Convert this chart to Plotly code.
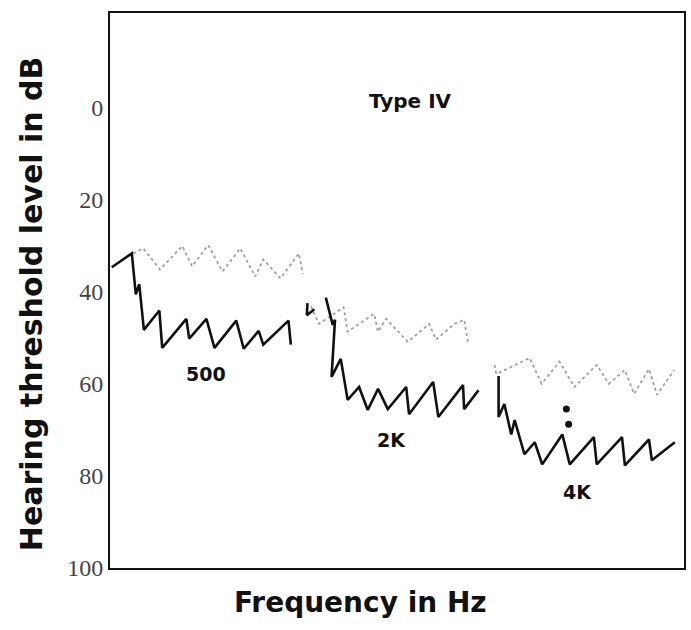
import plotly.graph_objects as go

# ---- data (x: relative position along frequency axis 0-100, y: hearing threshold dB) ----
x_500 = [0.3, 3.8, 4.5, 5.1, 5.9, 8.6, 9.1, 13.3, 13.8, 16.8, 18.2, 22.0, 23.3, 25.9, 26.7, 31.1, 31.5]
y_500 = [34.7, 31.7, 40.6, 38.4, 48.3, 44.1, 52.2, 45.9, 50.2, 45.9, 52.2, 46.3, 52.4, 48.5, 51.5, 46.3, 51.5]

x_2k_mark = [34.4, 34.3, 35.6]
y_2k_mark = [42.5, 45.1, 43.8]

x_2k = [37.6, 38.8, 39.2, 38.6, 40.2, 41.4, 43.4, 44.9, 46.7, 48.4, 51.6, 52.1, 56.3, 57.2, 61.5, 61.7, 64.2]
y_2k = [41.3, 47.2, 46.1, 58.5, 54.6, 63.5, 60.7, 65.7, 61.1, 65.5, 60.7, 66.6, 59.6, 67.2, 60.3, 65.5, 61.4]

x_4k = [67.7, 67.7, 68.7, 69.9, 70.5, 72.2, 74.0, 75.3, 78.8, 80.1, 84.3, 84.8, 89.2, 89.7, 93.9, 94.4, 98.4]
y_4k = [58.3, 67.2, 64.4, 71.0, 67.9, 75.3, 72.7, 77.5, 71.0, 77.5, 71.6, 77.5, 71.6, 77.7, 72.1, 76.6, 72.7]

# pulsed-tone (dotted) tracings
xp_500 = [3.1, 5.8, 8.7, 12.6, 14.3, 17.1, 19.6, 22.7, 25.3, 26.7, 29.7, 32.9, 33.6]
yp_500 = [32.3, 30.6, 35.2, 30.1, 34.5, 29.9, 35.6, 30.6, 36.7, 33.0, 37.1, 31.7, 36.2]
xp_2k = [35.0, 36.4, 40.7, 41.4, 46.0, 46.7, 48.1, 51.9, 55.6, 56.8, 60.0, 61.7, 62.4]
yp_2k = [43.2, 47.0, 43.4, 48.7, 44.8, 48.7, 45.9, 50.9, 47.0, 50.4, 47.0, 46.1, 51.3]
xp_4k = [67.0, 67.3, 73.1, 75.2, 78.3, 80.9, 84.8, 86.9, 89.7, 91.3, 93.9, 95.3, 98.3]
yp_4k = [55.9, 57.9, 54.4, 60.0, 55.2, 60.7, 55.9, 60.0, 57.0, 62.2, 56.8, 62.4, 57.0]

x_dots = [79.5, 79.9]
y_dots = [65.5, 68.8]

label_text = ["500", "2K", "4K"]
label_x = [16.8, 49.1, 81.5]
label_y = [57.9, 72.3, 83.6]

title_text = "Type IV"
y_ticks = [0, 20, 40, 60, 80, 100]
y_tick_labels = ["0", "20", "40", "60", "80", "100"]

fig = go.Figure()

dotted = dict(color="#a0a0a0", width=1.8, dash="dot")
for xs, ys in [(xp_500, yp_500), (xp_2k, yp_2k), (xp_4k, yp_4k)]:
    fig.add_trace(go.Scatter(x=xs, y=ys, mode="lines", line=dotted, showlegend=False, hoverinfo="skip"))

solid = dict(color="#111111", width=2.6)
for xs, ys in [(x_500, y_500), (x_2k_mark, y_2k_mark), (x_2k, y_2k), (x_4k, y_4k)]:
    fig.add_trace(go.Scatter(x=xs, y=ys, mode="lines", line=solid, showlegend=False, hoverinfo="skip"))

fig.add_trace(go.Scatter(x=x_dots, y=y_dots, mode="markers",
                         marker=dict(color="#111111", size=7), showlegend=False, hoverinfo="skip"))

for t, lx, ly in zip(label_text, label_x, label_y):
    fig.add_annotation(x=lx, y=ly, text=t, showarrow=False,
                       font=dict(family="DejaVu Sans", size=19, color="#111111", weight="bold"))

fig.add_annotation(x=52.4, y=-1.5, text=title_text, showarrow=False,
                   font=dict(family="DejaVu Sans", size=20, color="#111111", weight="bold"))

fig.add_annotation(xref="paper", yref="paper", x=-0.137, y=0.476, text="Hearing threshold level in dB",
                   textangle=-90, showarrow=False, xanchor="center", yanchor="middle",
                   font=dict(family="DejaVu Sans", size=30, color="#111111", weight="bold"))

fig.add_annotation(xref="paper", yref="paper", x=0.437, y=-0.062, text="Frequency in Hz",
                   showarrow=False, xanchor="center", yanchor="middle",
                   font=dict(family="DejaVu Sans", size=28, color="#111111", weight="bold"))

fig.update_xaxes(range=[0, 100], showticklabels=False, ticks="", showgrid=False, zeroline=False,
                 showline=True, linecolor="#111111", linewidth=2, mirror=True, automargin=False)
fig.update_yaxes(range=[100, -20.5], tickvals=y_ticks, ticktext=y_tick_labels, ticks="",
                 showgrid=False, zeroline=False, showline=True, linecolor="#111111", linewidth=2,
                 mirror=True, automargin=False,
                 tickfont=dict(family="Liberation Serif", size=24, color="#444444"))

fig.update_layout(width=691, height=630, margin=dict(l=110, r=7, t=13, b=62),
                  plot_bgcolor="white", paper_bgcolor="white")

fig.write_html("out.html", config={"displayModeBar": False},
               post_script="document.body.style.margin='0px';")
